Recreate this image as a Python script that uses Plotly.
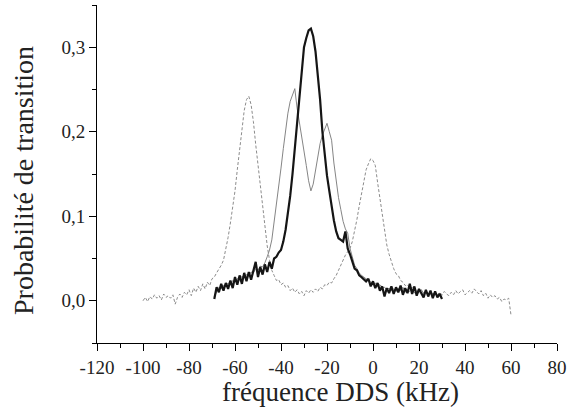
import plotly.graph_objects as go

# frequency grids (kHz)
freq_black = list(range(-69, 31))
freq_gray = list(range(-69, 31))
freq_dash = list(range(-100, 61))

# transition probability, thick black curve
prob_black = [
    0.002, 0.016, 0.010, 0.020, 0.012, 0.021, 0.014, 0.024, 0.015, 0.028,
    0.019, 0.030, 0.020, 0.033, 0.023, 0.034, 0.025, 0.036, 0.046, 0.028,
    0.040, 0.031, 0.043, 0.034, 0.046, 0.038, 0.050, 0.052, 0.057, 0.060,
    0.070, 0.084, 0.102, 0.124, 0.150, 0.180, 0.206, 0.233, 0.263, 0.300,
    0.311, 0.320, 0.322, 0.313, 0.295, 0.270, 0.238, 0.200, 0.170, 0.148,
    0.130, 0.112, 0.095, 0.082, 0.074, 0.072, 0.070, 0.082, 0.062, 0.055,
    0.045, 0.038, 0.036, 0.030, 0.028, 0.025, 0.023, 0.026, 0.017, 0.023,
    0.015, 0.021, 0.012, 0.017, 0.005, 0.015, 0.009, 0.017, 0.008, 0.016,
    0.010, 0.018, 0.007, 0.015, 0.009, 0.020, 0.008, 0.017, 0.006, 0.014,
    0.008, 0.004, 0.013, 0.005, 0.012, 0.003, 0.011, 0.004, 0.008, 0.002,
]

# thin grey curve (double peak)
prob_gray = [
    0.005, 0.010, 0.016, 0.014, 0.018, 0.017, 0.021, 0.019, 0.024, 0.022,
    0.026, 0.025, 0.029, 0.027, 0.031, 0.030, 0.034, 0.033, 0.038, 0.036,
    0.041, 0.040, 0.045, 0.052, 0.060, 0.072, 0.092, 0.112, 0.135, 0.157,
    0.180, 0.202, 0.222, 0.236, 0.243, 0.251, 0.228, 0.212, 0.193, 0.175,
    0.160, 0.142, 0.130, 0.138, 0.155, 0.170, 0.186, 0.196, 0.204, 0.210,
    0.200, 0.190, 0.163, 0.140, 0.122, 0.108, 0.094, 0.085, 0.080, 0.062,
    0.050, 0.042, 0.038, 0.033, 0.030, 0.028, 0.025, 0.024, 0.022, 0.020,
    0.021, 0.017, 0.019, 0.015, 0.016, 0.013, 0.015, 0.012, 0.014, 0.011,
    0.015, 0.012, 0.016, 0.010, 0.013, 0.011, 0.014, 0.009, 0.012, 0.010,
    0.013, 0.009, 0.012, 0.008, 0.011, 0.008, 0.010, 0.007, 0.009, 0.006,
]

# dashed grey curve (two separated peaks)
prob_dash = [
    0.000, 0.004, -0.001, 0.005, 0.002, 0.007, 0.003, 0.006, 0.001, 0.008,
    0.004, 0.006, 0.003, 0.007, -0.004, 0.004, 0.008, 0.004, 0.010, 0.007,
    0.013, 0.006, 0.015, 0.010, 0.017, 0.012, 0.020, 0.014, 0.022, 0.018,
    0.026, 0.028, 0.033, 0.037, 0.042, 0.048, 0.060, 0.075, 0.092, 0.110,
    0.130, 0.155, 0.180, 0.205, 0.225, 0.238, 0.242, 0.232, 0.212, 0.185,
    0.160, 0.135, 0.110, 0.085, 0.065, 0.048, 0.036, 0.030, 0.024, 0.025,
    0.019, 0.021, 0.016, 0.018, 0.012, 0.015, 0.010, 0.013, 0.008, 0.011,
    0.006, 0.012, 0.009, 0.013, 0.010, 0.014, 0.011, 0.016, 0.014, 0.019,
    0.018, 0.022, 0.021, 0.026, 0.030, 0.036, 0.042, 0.050, 0.054, 0.058,
    0.062, 0.070, 0.082, 0.096, 0.112, 0.128, 0.142, 0.155, 0.162, 0.168,
    0.166, 0.160, 0.140, 0.122, 0.105, 0.088, 0.066, 0.055, 0.045, 0.038,
    0.032, 0.030, 0.024, 0.022, 0.018, 0.019, 0.014, 0.016, 0.012, 0.013,
    0.009, 0.013, 0.008, 0.011, 0.007, 0.010, 0.005, 0.009, 0.006, 0.010,
    0.007, 0.011, 0.008, 0.006, 0.010, 0.007, 0.012, 0.008, 0.011, 0.013,
    0.007, 0.010, 0.012, 0.009, 0.014, 0.011, 0.008, 0.012, 0.006, 0.009,
    0.003, 0.007, 0.004, 0.006, 0.002, 0.004, -0.001, 0.002, 0.001, 0.003,
    -0.017,
]

x_ticks = [-120, -100, -80, -60, -40, -20, 0, 20, 40, 60, 80]
x_tick_text = ["-120", "-100", "-80", "-60", "-40", "-20", "0", "20", "40", "60", "80"]
y_ticks = [0.0, 0.1, 0.2, 0.3]
y_tick_text = ["0,0", "0,1", "0,2", "0,3"]

font_family = "Liberation Serif"

fig = go.Figure()

fig.add_trace(go.Scatter(x=freq_dash, y=prob_dash, mode="lines",
                         line=dict(color="#8c8c8c", width=1, dash="3px,2px")))
fig.add_trace(go.Scatter(x=freq_gray, y=prob_gray, mode="lines",
                         line=dict(color="#858585", width=1)))
fig.add_trace(go.Scatter(x=freq_black, y=prob_black, mode="lines",
                         line=dict(color="#151515", width=2.2)))

axis_common = dict(showline=True, linecolor="black", linewidth=1,
                   ticks="outside", ticklen=7, tickcolor="black", tickwidth=1,
                   showgrid=False, zeroline=False, mirror=False, automargin=False,
                   tickfont=dict(family=font_family, size=19, color="#222"))

fig.update_xaxes(range=[-120, 80], tickvals=x_ticks, ticktext=x_tick_text,
                 minor=dict(ticks="outside", ticklen=4, dtick=10, tick0=0,
                            tickcolor="black"),
                 **axis_common)
fig.update_yaxes(range=[-0.05, 0.35], tickvals=y_ticks, ticktext=y_tick_text,
                 minor=dict(ticks="outside", ticklen=4, dtick=0.05, tick0=0,
                            tickcolor="black"),
                 **axis_common)

# axis titles placed as annotations in paper pixels
fig.add_annotation(text="fréquence DDS (kHz)", xref="paper", yref="paper",
                   x=(340.5 - 97) / 460, y=-(392 - 343) / 338,
                   xanchor="center", yanchor="middle", showarrow=False,
                   font=dict(family=font_family, size=27, color="#222"))
fig.add_annotation(text="Probabilité de transition", xref="paper", yref="paper",
                   x=-(97 - 23) / 460, y=(343 - 181) / 338, textangle=-90,
                   xanchor="center", yanchor="middle", showarrow=False,
                   font=dict(family=font_family, size=28, color="#222"))

fig.update_layout(width=569, height=412, showlegend=False,
                  font=dict(family=font_family),
                  plot_bgcolor="white", paper_bgcolor="white",
                  margin=dict(l=97, r=12, t=5, b=69))

# page body has a default 8px margin; drop it so the figure fills the window
fig.write_html("out.html", config={"displayModeBar": False},
               post_script="document.body.style.margin='0';"
                           "document.body.style.overflow='hidden';")
